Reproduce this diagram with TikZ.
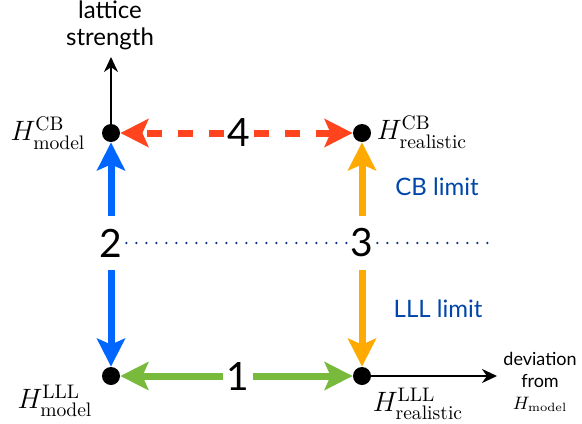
\RequirePackage{fix-cm}
\documentclass[tikz,border=0pt]{standalone}
\usepackage{amsmath}
\usepackage{fontspec}
\newfontfamily\gill{Lato}
\usetikzlibrary{arrows.meta}
\definecolor{cbblue}{RGB}{0,102,255}
\definecolor{cborange}{RGB}{255,170,0}
\definecolor{lllgreen}{RGB}{120,186,60}
\definecolor{modred}{RGB}{255,68,30}
\definecolor{limitblue}{RGB}{0,70,170}
\definecolor{dotblue}{RGB}{10,50,130}
\tikzset{vertex/.style={circle,fill=black,inner sep=0pt,minimum size=9pt}}
\tikzset{num/.style={inner sep=0pt,minimum width=15pt,minimum height=26.5pt,font=\gill\fontsize{19.5}{20}\selectfont}}
\tikzset{flow/.style={line width=3.5pt,-{Stealth[length=14pt,width=14pt,inset=3pt]}}}
\tikzset{axis/.style={line width=1pt,-{Stealth[length=7.5pt,width=7pt]}}}
\tikzset{limit/.style={text=limitblue,font=\gill\fontsize{12}{14}\selectfont}}
\tikzset{ham/.style={font=\fontsize{14}{16}\selectfont}}

\begin{document}
\begin{tikzpicture}[x=0.5pt,y=-0.5pt]
\useasboundingbox (0,0) rectangle (582,423);

\node[vertex] (tl) at (111,133) {};
\node[vertex] (tr) at (362,133) {};
\node[vertex] (bl) at (111,376) {};
\node[vertex] (br) at (362,376) {};

\coordinate (ytip) at (111,57);
\coordinate (xtip) at (497,376);
\coordinate (dotend) at (490,243);

\node[num] (n1) at (238,376) {1};
\node[num] (n2) at (111,243) {2};
\node[num] (n3) at (362,243) {3};
\node[num] (n4) at (239,133) {4};

\draw[axis] (tl) -- (ytip);
\draw[axis] (br) -- (xtip);

\draw[dotblue,line width=1.3pt,line cap=round,dash pattern=on 0pt off 5pt] (n2) -- (n3);
\draw[dotblue,line width=1.3pt,line cap=round,dash pattern=on 0pt off 5pt] (n3) -- (dotend);

\draw[flow,lllgreen] (n1) -- (bl);
\draw[flow,lllgreen] (n1) -- (br);
\draw[flow,cbblue] (n2) -- (tl);
\draw[flow,cbblue] (n2) -- (bl);
\draw[flow,cborange] (n3) -- (tr);
\draw[flow,cborange] (n3) -- (br);
\draw[flow,modred,dash pattern=on 7.5pt off 8pt] (n4) -- (tl);
\draw[flow,modred,dash pattern=on 7.5pt off 8pt] (n4) -- (tr);

\node[align=center,font=\gill\fontsize{12}{13.5}\selectfont] (ylabel) at (110,25) {lattice\\strength};
\node[align=center,font=\gill\fontsize{9}{11}\selectfont] (xlabel) at (540,382) {deviation\\from\\$H_{\mathrm{model}}$};

\node[ham] (hmcb) at (48,133) {$H^{\mathrm{CB}}_{\mathrm{model}}$};
\node[ham] (hrcb) at (422,132) {$H^{\mathrm{CB}}_{\mathrm{realistic}}$};
\node[ham] (hmlll) at (55,401) {$H^{\mathrm{LLL}}_{\mathrm{model}}$};
\node[ham] (hrlll) at (418,404) {$H^{\mathrm{LLL}}_{\mathrm{realistic}}$};

\node[limit] (cblim) at (437,187) {CB limit};
\node[limit] (llllim) at (438,309) {LLL limit};
\end{tikzpicture}
\end{document}
